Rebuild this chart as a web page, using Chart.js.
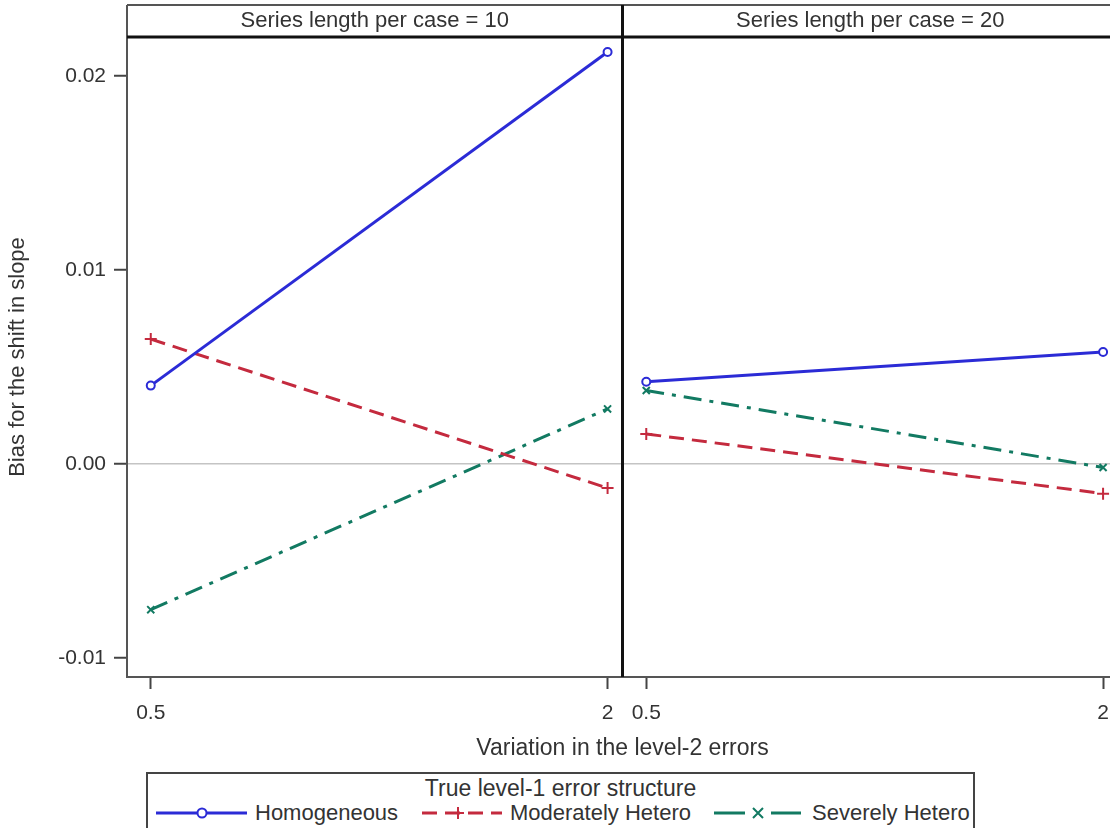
<!DOCTYPE html>
<html>
<head>
<meta charset="utf-8">
<script src="https://cdn.jsdelivr.net/npm/chart.js@4"></script>
<style>
  html, body { margin: 0; padding: 0; background: #fff; }
  #wrap { position: relative; width: 1110px; height: 828px; overflow: hidden; font-family: 'Liberation Sans', Arial, sans-serif; color: #333; }
  #biasChart { position: absolute; left: 0; top: 0; }
  #xTitle { position: absolute; left: 127px; width: 991px; top: 734px; text-align: center; font-size: 23px; }
  #legend { position: absolute; left: 146px; top: 772px; width: 829px; height: 70px; border: 2px solid #444; box-sizing: border-box; }
  #legend .ttl { position: absolute; left: 0; right: 0; top: 1px; text-align: center; font-size: 23px; line-height: 26px; }
  #legend .item { position: absolute; top: 26px; font-size: 22px; line-height: 26px; white-space: nowrap; }
  #legend svg { position: absolute; top: 29px; }
</style>
</head>
<body>
<div id="wrap">
  <canvas id="biasChart" width="1130" height="765"></canvas>
  <div id="xTitle">Variation in the level-2 errors</div>
  <div id="legend"></div>
</div>
<script>
// Bias for the shift in slope, by level-2 error variation
const xLevels = [0.5, 2];
const xTickLabels = ['0.5', '2'];
const yTickValues = [-0.01, 0, 0.01, 0.02];
const panelTitles = ['Series length per case = 10', 'Series length per case = 20'];
const seriesNames = ['Homogeneous', 'Moderately Hetero', 'Severely Hetero'];
const legendTitle = 'True level-1 error structure';

// series length 10
const homog10 = [0.00404, 0.02124];
const moder10 = [0.00644, -0.00124];
const sever10 = [-0.00751, 0.00284];
// series length 20
const homog20 = [0.00424, 0.00577];
const moder20 = [0.00155, -0.00153];
const sever20 = [0.00379, -0.00018];

const colors = ['#2b2bd6', '#c42a3e', '#127a62'];
const dashes = [[], [15, 8], [18, 8, 4, 8]];
const markers = ['circle', 'cross', 'crossRot'];
const markerSize = [4, 6, 5];

const FONT = "'Liberation Sans', Arial, sans-serif";
const TEXT = '#333';

function points(vals) {
    return xLevels.map((x, i) => ({ x: x, y: vals[i] }));
}

const panels = [
    { axis: 'x1', values: [homog10, moder10, sever10] },
    { axis: 'x2', values: [homog20, moder20, sever20] }
];

const datasets = [];
panels.forEach(p => {
    p.values.forEach((vals, i) => {
        datasets.push({
            label: seriesNames[i],
            data: points(vals),
            xAxisID: p.axis,
            yAxisID: 'y',
            borderColor: colors[i],
            backgroundColor: i === 0 ? '#fff' : colors[i],
            borderWidth: 3,
            borderDash: dashes[i],
            pointStyle: markers[i],
            pointRadius: markerSize[i],
            pointBorderWidth: 2,
            pointBorderColor: colors[i],
            pointBackgroundColor: '#fff',
            tension: 0
        });
    });
});

function panelAxis() {
    return {
        type: 'linear',
        position: 'bottom',
        stack: 'panels',
        stackWeight: 1,
        min: 0.422,
        max: 2.049,
        afterBuildTicks: s => { s.ticks = xLevels.map(v => ({ value: v })); },
        afterFit: s => { s.height = 88; },
        ticks: {
            autoSkip: false,
            maxRotation: 0,
            padding: 12,
            color: TEXT,
            font: { family: FONT, size: 21 },
            callback: (v, i) => xTickLabels[i]
        },
        grid: { drawOnChartArea: false, drawTicks: true, tickLength: 12, tickColor: '#444', tickWidth: 2 },
        border: { display: true, color: '#555', width: 2 }
    };
}

// header strips and the heavy panel divider
const panelFrame = {
    id: 'panelFrame',
    afterDraw(chart) {
        const { ctx, chartArea: a, scales } = chart;
        const top = a.top - 32;
        const mid = scales.x1.right;
        ctx.save();
        ctx.strokeStyle = '#555';
        ctx.lineWidth = 2;
        ctx.beginPath();
        ctx.moveTo(a.left, top);
        ctx.lineTo(a.right, top);
        ctx.moveTo(a.left, top);
        ctx.lineTo(a.left, a.top);
        ctx.stroke();
        ctx.strokeStyle = '#111';
        ctx.lineWidth = 3;
        ctx.beginPath();
        ctx.moveTo(a.left, a.top);
        ctx.lineTo(a.right, a.top);
        ctx.moveTo(mid, top);
        ctx.lineTo(mid, a.bottom);
        ctx.stroke();
        ctx.fillStyle = TEXT;
        ctx.font = '22px ' + FONT;
        ctx.textAlign = 'center';
        ctx.textBaseline = 'middle';
        ['x1', 'x2'].forEach((id, i) => {
            const s = scales[id];
            ctx.fillText(panelTitles[i], (s.left + s.right) / 2, top + 16);
        });
        ctx.restore();
    }
};

const biasChart = new Chart(document.getElementById('biasChart'), {
    type: 'line',
    data: { datasets: datasets },
    options: {
        responsive: false,
        animation: false,
        layout: { padding: { top: 37, right: 12, left: 0, bottom: 0 } },
        plugins: { legend: { display: false }, tooltip: { enabled: false } },
        scales: {
            x1: panelAxis(),
            x2: panelAxis(),
            y: {
                type: 'linear',
                position: 'left',
                min: -0.01098,
                max: 0.02201,
                afterBuildTicks: s => { s.ticks = yTickValues.map(v => ({ value: v })); },
                afterFit: s => { s.width = 127; },
                ticks: {
                    padding: 8,
                    color: TEXT,
                    font: { family: FONT, size: 21 },
                    callback: v => v.toFixed(2)
                },
                grid: {
                    color: c => c.tick && c.tick.value === 0 ? '#c4c4c4' : 'rgba(0,0,0,0)',
                    lineWidth: 1.5,
                    drawTicks: true,
                    tickLength: 13,
                    tickColor: '#444',
                    tickWidth: 2
                },
                border: { display: true, color: '#555', width: 2 },
                title: {
                    display: true,
                    text: 'Bias for the shift in slope',
                    color: TEXT,
                    font: { family: FONT, size: 22 },
                    padding: { top: 5, bottom: 0 }
                }
            }
        }
    },
    plugins: [panelFrame]
});

// legend below the plot: sample position, sample width, marker offset, label position
const legend = document.getElementById('legend');
const legendItems = [
    { sample: 8, width: 91, mark: 46, text: 107 },
    { sample: 274, width: 80, mark: 36, text: 362 },
    { sample: 566, width: 87, mark: 44, text: 664 }
];
let html = '<div class="ttl">' + legendTitle + '</div>';
seriesNames.forEach((name, i) => {
    const c = colors[i];
    const it = legendItems[i];
    const m = it.mark;
    const dash = dashes[i].length ? ' stroke-dasharray="' + dashes[i].join(' ') + '"' : '';
    let line = '<line x1="0" y1="10" x2="' + it.width + '" y2="10" stroke="' + c + '" stroke-width="3"' + dash + '/>';
    let mark = '';
    if (i === 0) mark = '<circle cx="' + m + '" cy="10" r="4.5" fill="#fff" stroke="' + c + '" stroke-width="2"/>';
    if (i === 1) mark = '<path d="M' + (m - 6) + ' 10h12M' + m + ' 4v12" stroke="' + c + '" stroke-width="2"/>';
    if (i === 2) {
        line = '<path d="M0 10H' + (m - 13) + 'M' + (m + 13) + ' 10H' + it.width + '" stroke="' + c + '" stroke-width="3"/>';
        mark = '<path d="M' + (m - 5) + ' 5l10 10M' + (m + 5) + ' 5l-10 10" stroke="' + c + '" stroke-width="2"/>';
    }
    html += '<svg style="left:' + it.sample + 'px" width="' + it.width + '" height="20">' + line + mark + '</svg>';
    html += '<div class="item" style="left:' + it.text + 'px">' + name + '</div>';
});
legend.innerHTML = html;
</script>
</body>
</html>
